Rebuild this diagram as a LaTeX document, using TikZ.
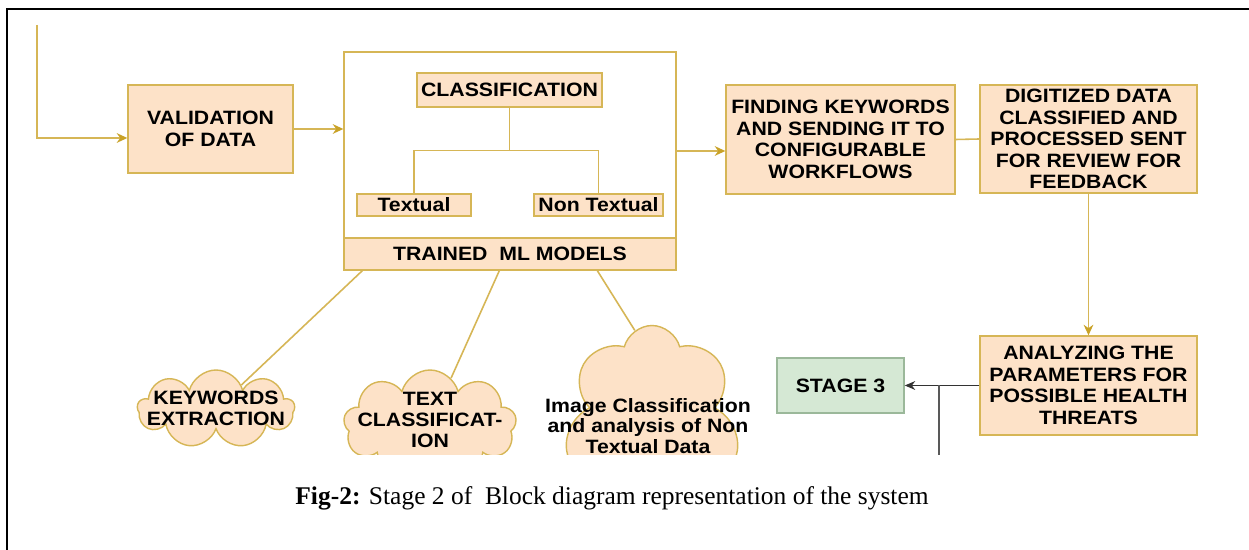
\documentclass[tikz,border=0pt]{standalone}
\usepackage{fontspec}
\setmainfont{Liberation Serif}
\newfontfamily\diagfont[FakeStretch=1.1]{Liberation Sans}
\usepackage{tikz}
\usetikzlibrary{
    shapes.symbols,
    arrows.meta,
    positioning,
    calc
}
\definecolor{boxfill}{HTML}{FDE2C8}
\definecolor{boxedge}{HTML}{D6B656}
\definecolor{tipgold}{HTML}{C9A227}
\definecolor{stagefill}{HTML}{D5E8D4}
\definecolor{stageedge}{HTML}{9BB89A}
\tikzset{
    block/.style = {
        rectangle,
        draw=boxedge,
        fill=boxfill,
        line width=0.8pt,
        inner sep=2pt,
        align=center,
        font=\diagfont\fontsize{11}{12.3}\selectfont\bfseries
    },
    frame/.style = {
        rectangle,
        draw=boxedge,
        fill=white,
        line width=0.8pt
    },
    stagebox/.style = {
        block,
        draw=stageedge,
        fill=stagefill
    },
    cloudbox/.style = {
        cloud,
        cloud ignores aspect,
        draw=boxedge,
        fill=boxfill,
        line width=0.8pt,
        inner sep=0pt
    },
    cloudtext/.style = {
        align=center,
        inner sep=0pt,
        font=\diagfont\fontsize{11}{11.8}\selectfont\bfseries
    },
    link/.style = {
        draw=boxedge,
        line width=0.9pt
    },
    goldarrow/.style = {
        link,
        -{Stealth[length=6pt,width=5.5pt,color=tipgold]}
    },
    darkarrow/.style = {
        draw=black!80,
        line width=0.8pt,
        -{Stealth[length=6pt,width=5pt]}
    },
    caption/.style = {
        font=\fontsize{14.5}{17}\selectfont
    }
}
\begin{document}
\begin{tikzpicture}[x=0.02cm,y=-0.02cm]
\useasboundingbox (0,0) rectangle (1249,550);
\fill[white] (0,0) rectangle (1249,550);

% page frame
\draw[line width=1.7pt] (7,560) -- (7,9) -- (1260,9);

\begin{scope}
\clip (0,0) rectangle (1249,455);

% first stage boxes
\node[block, minimum width=3.3cm, minimum height=1.76cm] (val) at (210.5,129)
    {VALIDATION\\OF DATA};
\node[frame, minimum width=6.64cm, minimum height=4.36cm] (models) at (510,161) {};
\node[block, minimum width=6.64cm, minimum height=0.64cm] (trained) at (510,254)
    {TRAINED\ \ ML MODELS};
\node[block, minimum width=3.7cm, minimum height=0.68cm] (classif) at (509.5,90)
    {CLASSIFICATION};
\node[block, minimum width=2.28cm, minimum height=0.44cm] (textual) at (414,205)
    {Textual};
\node[block, minimum width=2.58cm, minimum height=0.44cm] (nontextual) at (598.5,205)
    {Non Textual};

% right hand boxes
\node[block, minimum width=4.58cm, minimum height=2.18cm] (finding) at (840.5,139.5)
    {FINDING KEYWORDS\\AND SENDING IT TO\\CONFIGURABLE\\WORKFLOWS};
\node[block, minimum width=4.34cm, minimum height=2.16cm] (digitized) at (1088.5,139)
    {DIGITIZED DATA\\CLASSIFIED AND\\PROCESSED SENT\\FOR REVIEW FOR\\FEEDBACK};
\node[block, minimum width=4.34cm, minimum height=1.98cm] (analyzing) at (1088.5,385.5)
    {ANALYZING THE\\PARAMETERS FOR\\POSSIBLE HEALTH\\THREATS};
\node[stagebox, minimum width=2.54cm, minimum height=1.1cm] (stage) at (840.5,385.5)
    {STAGE 3};

% clouds
\node[cloudbox, cloud puffs=9, minimum width=3.14cm, minimum height=1.56cm] (kwcloud) at (216,409) {};
\node[cloudtext] (kwtext) at (216,408) {KEYWORDS\\EXTRACTION};
\node[cloudbox, cloud puffs=9, minimum width=3.46cm, minimum height=2.2cm] (txtcloud) at (430,425) {};
\node[cloudtext] (txttext) at (430,420) {TEXT\\CLASSIFICAT-\\ION};
\node[cloudbox, cloud puffs=7, minimum width=3.5cm, minimum height=4.1cm] (imgcloud) at (652,428) {};
\node[cloudtext] (imgtext) at (648,426) {Image Classification\\and analysis of Non\\Textual Data};

% connectors
\coordinate (feed) at (37,25);
\draw[goldarrow] (feed) |- ($(val.west)+(0,9)$);
\draw[goldarrow] (val.east) -- (val.east -| models.west);
\draw[link] (classif.south) -- ++(0,43) coordinate (split);
\draw[link] (textual.north) |- (split) -| (nontextual.north);
\draw[goldarrow] ($(models.east)+(0,-10)$) -- ($(finding.west)+(0,11.5)$);
\draw[link] (finding.east) -- (digitized.west);
\draw[goldarrow] (digitized.south) -- (analyzing.north);
\draw[darkarrow] (analyzing.west) -- (stage.east);
\coordinate (tap) at (939,470);
\draw[draw=black!65, line width=0.8pt] (tap) -- (tap |- stage.east);
\draw[link] ($(models.south west)+(19,0)$) -- (kwcloud);
\draw[link] ($(models.south west)+(156,0)$) -- (txtcloud);
\draw[link] ($(models.south west)+(254,0)$) -- (imgcloud.100);
\end{scope}

% caption
\node[caption] (cap) at (612,498)
    {\textbf{Fig-2:} Stage 2 of\ \ Block diagram representation of the system};
\end{tikzpicture}
\end{document}
